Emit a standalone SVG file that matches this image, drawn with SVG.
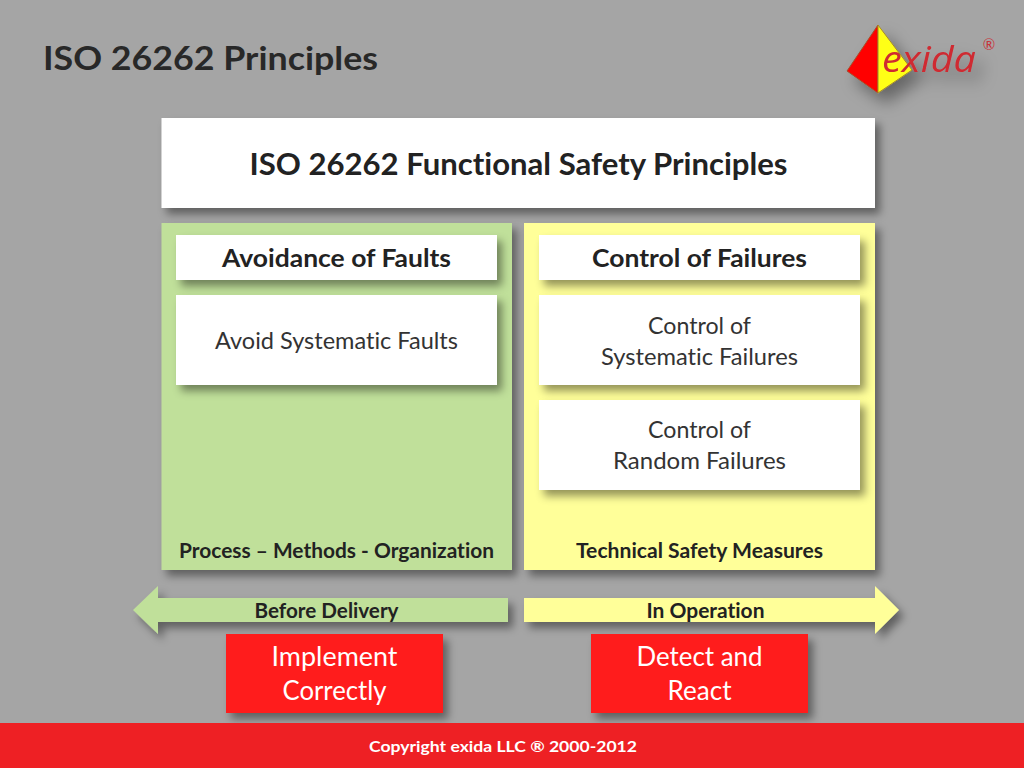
<svg xmlns="http://www.w3.org/2000/svg" width="1024" height="768" viewBox="0 0 1024 768">
<defs>
<filter id="sh" x="-10%" y="-20%" width="125%" height="150%"><feDropShadow dx="5" dy="6" stdDeviation="4" flood-color="#000" flood-opacity="0.42"/></filter>
<filter id="logoSh" x="-30%" y="-40%" width="170%" height="200%"><feDropShadow dx="8" dy="10" stdDeviation="8" flood-color="#000" flood-opacity="0.38"/></filter>
</defs>
<style>
text{font-family:Lato,"Liberation Sans",sans-serif;text-anchor:middle;font-variant-ligatures:none}
.b{font-weight:700;fill:#222}
.r{fill:#333}
.w{fill:#fff}
.box{fill:#fff;filter:url(#sh)}
.green{fill:#c0e09a;filter:url(#sh)}
.yellow{fill:#ffff99;filter:url(#sh)}
.red{fill:#ff1a1a;filter:url(#sh)}
</style>
<rect width="1024" height="768" fill="#a5a5a5"/>
<text id="title" x="43" y="70" class="b" style="text-anchor:start;fill:#282828" font-size="33" textLength="335" lengthAdjust="spacingAndGlyphs">ISO 26262 Principles</text>
<g id="logo">
<g filter="url(#logoSh)">
<polygon points="878,25 847,71 878,93" fill="#ff0000" stroke="#a5502a" stroke-width="1"/>
<polygon points="878,25 878,93 912,70" fill="#ffff14" stroke="#a58a2a" stroke-width="1"/>
<text x="882" y="71.500" font-size="37" font-style="italic" fill="#cf2a30" style="text-anchor:start;font-family:'Open Sans',sans-serif" textLength="94" lengthAdjust="spacingAndGlyphs">exida</text>
</g>
<text x="989" y="50" font-size="15" fill="#c8333a">®</text>
</g>
<g id="header"><rect class="box" x="161.500" y="118" width="713.500" height="90"/>
<text x="518.500" y="175" class="b" font-size="29.500" textLength="538" lengthAdjust="spacingAndGlyphs">ISO 26262 Functional Safety Principles</text></g>
<g id="avoidance-panel"><rect class="green" x="161.500" y="223" width="350.500" height="347"/>
<text x="336.500" y="558" class="b" font-size="20" textLength="315" lengthAdjust="spacingAndGlyphs">Process – Methods - Organization</text></g>
<g id="control-panel"><rect class="yellow" x="524" y="223" width="351" height="347"/>
<text x="699.500" y="558" class="b" font-size="20" textLength="247" lengthAdjust="spacingAndGlyphs">Technical Safety Measures</text></g>
<g id="avoidance-head"><rect class="box" x="176" y="235" width="321" height="45"/>
<text x="336.500" y="267" class="b" font-size="25" textLength="229" lengthAdjust="spacingAndGlyphs">Avoidance of Faults</text></g>
<g id="control-head"><rect class="box" x="539" y="235" width="321" height="45"/>
<text x="699.500" y="267" class="b" font-size="25" textLength="215" lengthAdjust="spacingAndGlyphs">Control of Failures</text></g>
<g id="avoid-systematic"><rect class="box" x="176" y="295" width="321" height="90"/>
<text x="336.500" y="349" class="r" font-size="24" textLength="243" lengthAdjust="spacingAndGlyphs">Avoid Systematic Faults</text></g>
<g id="control-systematic"><rect class="box" x="539" y="295" width="321" height="90"/>
<text x="699.500" y="334" class="r" font-size="24" textLength="103" lengthAdjust="spacingAndGlyphs">Control of</text>
<text x="699.500" y="365" class="r" font-size="24" textLength="197" lengthAdjust="spacingAndGlyphs">Systematic Failures</text></g>
<g id="control-random"><rect class="box" x="539" y="400" width="321" height="90"/>
<text x="699.500" y="438" class="r" font-size="24" textLength="103" lengthAdjust="spacingAndGlyphs">Control of</text>
<text x="699.500" y="469" class="r" font-size="24" textLength="173" lengthAdjust="spacingAndGlyphs">Random Failures</text></g>
<g id="connectors">
<polygon class="green" points="133,610 158,586 158,598 508,598 508,622 158,622 158,634"/>
<polygon class="yellow" points="899,610 875,586 875,598 524,598 524,622 875,622 875,634"/>
</g>
<g id="before-label"><text x="326.500" y="618" class="b" font-size="20" textLength="144" lengthAdjust="spacingAndGlyphs">Before Delivery</text></g>
<g id="operation-label"><text x="705.500" y="618" class="b" font-size="20" textLength="118" lengthAdjust="spacingAndGlyphs">In Operation</text></g>
<g id="implement"><rect class="red" x="226" y="634" width="217" height="79"/>
<text x="334.500" y="666" class="w" font-size="26" textLength="126" lengthAdjust="spacingAndGlyphs">Implement</text>
<text x="334.500" y="700" class="w" font-size="26" textLength="104" lengthAdjust="spacingAndGlyphs">Correctly</text></g>
<g id="detect"><rect class="red" x="591" y="634" width="217" height="79"/>
<text x="699.500" y="666" class="w" font-size="26" textLength="126" lengthAdjust="spacingAndGlyphs">Detect and</text>
<text x="699.500" y="700" class="w" font-size="26" textLength="64" lengthAdjust="spacingAndGlyphs">React</text></g>
<g id="footer"><rect y="723" width="1024" height="45" fill="#ee2024"/>
<text x="503" y="752" class="w" font-weight="700" font-size="16" textLength="268" lengthAdjust="spacingAndGlyphs">Copyright exida LLC ® 2000-2012</text></g>
</svg>
